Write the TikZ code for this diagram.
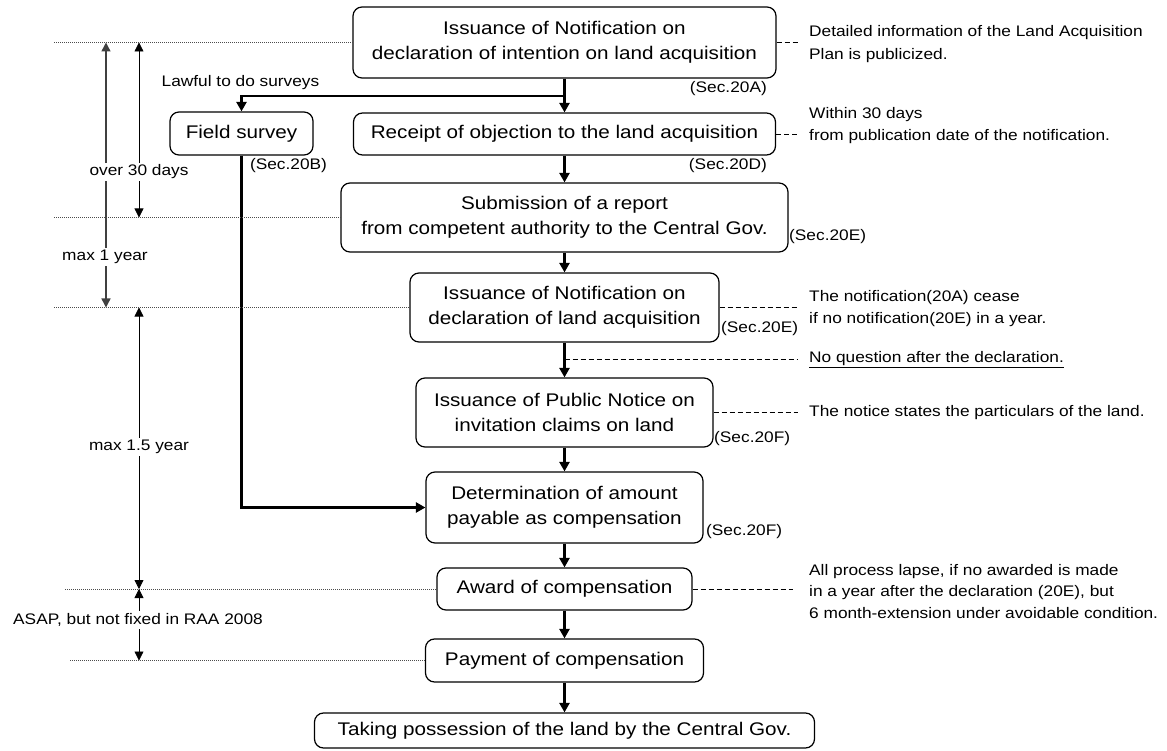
\documentclass[tikz,border=0pt]{standalone}
\usepackage{fontspec}
\setmainfont{Liberation Sans}[FakeStretch=1.13]
\usetikzlibrary{arrows.meta}
\newcommand{\bigfs}{\fontsize{18.3}{25}\selectfont}
\newcommand{\smallfs}{\fontsize{15.3}{22.5}\selectfont}
\begin{document}
\begin{tikzpicture}[x=1pt,y=-1pt,
 box/.style={draw, line width=1.2pt, rounded corners=9pt, align=center, inner sep=0pt, font=\bigfs},
 lbl/.style={inner sep=0pt, font=\smallfs, align=left},
 flow/.style={line width=2.4pt, -{Triangle[width=10pt,length=9.5pt]}},
 note/.style={line width=0.9pt, dash pattern=on 5pt off 3pt},
 guide/.style={line width=0.8pt, dash pattern=on 1pt off 1pt, black!70},
 span/.style={line width=0.8pt, {Triangle[width=9pt,length=9pt]}-{Triangle[width=9pt,length=9pt]}},
 gap/.style={fill=white, inner sep=2pt, font=\smallfs}
]
\useasboundingbox (0,0) rectangle (1167,751);

% boxes
\node[box, minimum width=423pt, minimum height=71pt] (b1) at (564.5,42.5) {Issuance of Notification on\\declaration of intention on land acquisition};
\node[box, minimum width=422pt, minimum height=42pt] (b2) at (564.5,134) {Receipt of objection to the land acquisition};
\node[box, minimum width=143pt, minimum height=43pt] (fs) at (241.5,133.5) {Field survey};
\node[box, minimum width=447pt, minimum height=69pt] (b3) at (564.5,217.5) {Submission of a report\\from competent authority to the Central Gov.};
\node[box, minimum width=309pt, minimum height=69pt] (b4) at (564.5,307.5) {Issuance of Notification on\\declaration of land acquisition};
\node[box, minimum width=297pt, minimum height=69pt] (b5) at (564.5,412.5) {Issuance of Public Notice on\\invitation claims on land};
\node[box, minimum width=277pt, minimum height=71pt] (b6) at (564.5,507.5) {Determination of amount\\payable as compensation};
\node[box, minimum width=255pt, minimum height=42pt] (b7) at (564.5,589) {Award of compensation};
\node[box, minimum width=278pt, minimum height=43pt] (b8) at (564.5,660.5) {Payment of compensation};
\node[box, minimum width=500pt, minimum height=35pt] (b9) at (564.5,730.5) {Taking possession of the land by the Central Gov.};

% section labels
\node[lbl, anchor=east] (s1) at (767,89) {(Sec.20A)};
\node[lbl, anchor=east] (s2) at (767,166) {(Sec.20D)};
\node[lbl] (sfs) at (288.5,166) {(Sec.20B)};
\node[lbl, anchor=west] (s3) at (789,237) {(Sec.20E)};
\node[lbl, anchor=west] (s4) at (721,329) {(Sec.20E)};
\node[lbl, anchor=west] (s5) at (714,439) {(Sec.20F)};
\node[lbl, anchor=west] (s6) at (706,532) {(Sec.20F)};
\node[lbl] (law) at (240.5,83) {Lawful to do surveys};

% notes on the right
\node[lbl, anchor=west] (n1) at (809,44) {Detailed information of the Land Acquisition\\Plan is publicized.};
\node[lbl, anchor=west] (n2) at (809,125.5) {Within 30 days\\from publication date of the notification.};
\node[lbl, anchor=west] (n4) at (809,308.5) {The notification(20A) cease\\if no notification(20E) in a year.};
\node[lbl, anchor=west] (n4b) at (809,360) {\underline{No question after the declaration.}};
\node[lbl, anchor=west] (n5) at (809,412.5) {The notice states the particulars of the land.};
\node[lbl, anchor=west, font=\fontsize{15.3}{21.5}\selectfont] (n7) at (809,591.5) {All process lapse, if no awarded is made\\in a year after the declaration (20E), but\\6 month-extension under avoidable condition.};

\coordinate (q) at (564.5,359);
\draw[note, shorten >=11pt] (b1.east) -- (b1.east -| n1.west);
\draw[note, shorten >=11pt] (b2.east) -- (b2.east -| n2.west);
\draw[note, shorten >=11pt] (b4.east) -- (b4.east -| n4.west);
\draw[note, shorten >=11pt] (q) -- (q -| n4b.west);
\draw[note, shorten >=11pt] (b5.east) -- (b5.east -| n5.west);
\draw[note, shorten >=16pt] (b7.east) -- (b7.east -| n7.west);

% main flow
\coordinate (j1) at (564.5,96);
\draw[flow] (b1.south) -- (b2.north);
\draw[flow] (j1) -| (fs.north);
\draw[flow] (b2.south) -- (b3.north);
\draw[flow] (b3.south) -- (b4.north);
\draw[flow] (b4.south) -- (b5.north);
\draw[flow] (b5.south) -- (b6.north);
\draw[flow] (b6.south) -- (b7.north);
\draw[flow] (b7.south) -- (b8.north);
\draw[flow] (b8.south) -- (b9.north);
\draw[flow] (fs.south) |- (b6.west);

% time guides
\coordinate (g1) at (54,42.5);
\coordinate (g2) at (54,217.5);
\coordinate (g3) at (54,307.5);
\coordinate (g4) at (65,589);
\coordinate (g5) at (70,660.5);
\draw[guide] (g1) -- (b1.west);
\draw[guide] (g2) -- (b3.west);
\draw[guide] (g3) -- (b4.west);
\draw[guide] (g4) -- (b7.west);
\draw[guide] (g5) -- (b8.west);

\coordinate (a1) at (106,42.5);
\coordinate (a2) at (106,307.5);
\coordinate (c1) at (139,42.5);
\coordinate (c2) at (139,217.5);
\coordinate (c3) at (139,307.5);
\coordinate (c4) at (139,589);
\coordinate (c5) at (139,660.5);
\draw[span, line width=1.5pt, black!75] (a1) -- (a2);
\draw[span] (c1) -- (c2);
\draw[span] (c3) -- (c4);
\draw[span] (c4) -- (c5);
\node[gap] (m1) at (105,257) {max 1 year};
\node[gap] (m2) at (139,172) {over 30 days};
\node[gap] (m3) at (139,447) {max 1.5 year};
\node[gap] (m4) at (138,620) {ASAP, but not fixed in RAA 2008};
\end{tikzpicture}
\end{document}
